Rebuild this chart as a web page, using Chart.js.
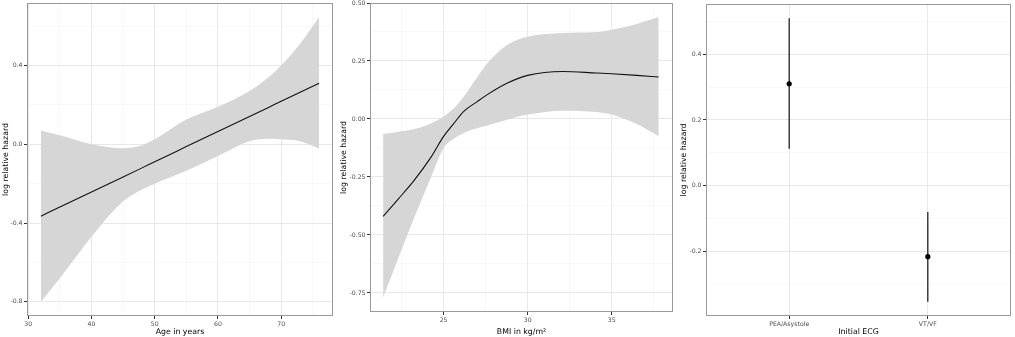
<!DOCTYPE html>
<html>
<head>
<meta charset="utf-8">
<script src="https://cdn.jsdelivr.net/npm/chart.js@4"></script>
<style>
html,body{margin:0;padding:0;background:#fff;width:1015px;height:337px;overflow:hidden;}
canvas{position:absolute;top:0;}
</style>
</head>
<body>
<canvas id="c1" width="336" height="337" style="left:0px"></canvas>
<canvas id="c2" width="340" height="337" style="left:336px"></canvas>
<canvas id="c3" width="339" height="337" style="left:676px"></canvas>
<script>
// ---------- Panel 1: Age ----------
const ageX   = [32, 35, 40, 45, 48, 50, 55, 60, 65, 68, 70, 73, 76];
const ageFit = [-0.365, -0.319, -0.242, -0.166, -0.120, -0.089, -0.012, 0.065, 0.141, 0.187, 0.218, 0.264, 0.310];
const ageHi  = [0.070, 0.045, 0.000, -0.020, -0.005, 0.025, 0.125, 0.190, 0.270, 0.340, 0.400, 0.510, 0.645];
const ageLo  = [-0.800, -0.680, -0.470, -0.290, -0.230, -0.200, -0.135, -0.060, 0.015, 0.028, 0.025, 0.015, -0.022];
const ageXTicks = [30, 40, 50, 60, 70];
const ageXLabels = ['30', '40', '50', '60', '70'];
const ageXMinor = [35, 45, 55, 65, 75];
const ageYTicks = [-0.8, -0.4, 0.0, 0.4];
const ageYLabels = ['-0.8', '-0.4', '0.0', '0.4'];
const ageYMinor = [-0.6, -0.2, 0.2, 0.6];

// ---------- Panel 2: BMI ----------
const bmiX   = [21.4, 22.3, 23.2, 24.2, 25.0, 25.6, 26.2, 27.0, 27.6, 28.8, 30.0, 32.1, 34.1, 35.0, 36.5, 37.8];
const bmiFit = [-0.420, -0.345, -0.269, -0.170, -0.075, -0.020, 0.033, 0.075, 0.105, 0.155, 0.188, 0.205, 0.198, 0.195, 0.188, 0.181];
const bmiHi  = [-0.065, -0.055, -0.044, -0.020, 0.011, 0.045, 0.097, 0.180, 0.240, 0.320, 0.355, 0.371, 0.375, 0.385, 0.410, 0.440];
const bmiLo  = [-0.770, -0.600, -0.434, -0.260, -0.125, -0.085, -0.060, -0.040, -0.028, -0.003, 0.019, 0.036, 0.030, 0.019, -0.022, -0.075];
const bmiXTicks = [25, 30, 35];
const bmiXLabels = ['25', '30', '35'];
const bmiXMinor = [22.5, 27.5, 32.5, 37.5];
const bmiYTicks = [-0.75, -0.5, -0.25, 0, 0.25, 0.5];
const bmiYLabels = ['-0.75', '-0.50', '-0.25', '0.00', '0.25', '0.50'];
const bmiYMinor = [-0.625, -0.375, -0.125, 0.125, 0.375];

// ---------- Panel 3: Initial ECG ----------
const ecgCats = ['PEA/Asystole', 'VT/VF'];
const ecgEst  = [0.310, -0.215];
const ecgLo   = [0.113, -0.352];
const ecgHi   = [0.509, -0.079];
const ecgYTicks = [-0.2, 0.0, 0.2, 0.4];
const ecgYLabels = ['-0.2', '0.0', '0.2', '0.4'];
const ecgYMinor = [-0.3, -0.1, 0.1, 0.3, 0.5];

const FONT = 'DejaVu Sans';
const near = (a, b) => Math.abs(a - b) < 1e-9;

function axis(opts) {
  const {majors, labels, minors, min, max, size, title, titlePad, isX} = opts;
  return {
    type: 'linear', min, max,
    afterBuildTicks: (s) => {
      const all = majors.concat(minors).slice().sort((a, b) => a - b);
      s.ticks = all.map(v => ({value: v}));
    },
    afterFit: (s) => {
      if (isX) s.height = size; else s.width = size;
      s.paddingTop = 0; s.paddingBottom = 0; s.paddingLeft = 0; s.paddingRight = 0;
    },
    ticks: {
      autoSkip: false, maxRotation: 0, minRotation: 0, padding: 1.5,
      color: '#4d4d4d', font: {family: FONT, size: 6.2},
      callback: (v) => { const i = majors.findIndex(m => near(m, v)); return i >= 0 ? labels[i] : ''; }
    },
    grid: {
      drawTicks: true, tickLength: 3,
      color: (c) => majors.some(m => near(m, c.tick.value)) ? '#e8e8e8' : '#f3f3f3',
      lineWidth: (c) => majors.some(m => near(m, c.tick.value)) ? 1 : 0.6,
      tickColor: (c) => majors.some(m => near(m, c.tick.value)) ? '#333333' : 'rgba(0,0,0,0)',
      tickWidth: 1
    },
    border: {display: false},
    title: {display: true, text: title, color: '#000', font: {family: FONT, size: 7.8}, padding: titlePad}
  };
}

const framePlugin = {
  id: 'frame',
  afterDatasetsDraw(chart) {
    const a = chart.chartArea, ctx = chart.ctx;
    ctx.save();
    ctx.strokeStyle = '#9a9a9a';
    ctx.lineWidth = 1;
    ctx.strokeRect(Math.round(a.left) + 0.5, Math.round(a.top) + 0.5, Math.round(a.right - a.left) - 1, Math.round(a.bottom - a.top) - 1);
    ctx.restore();
  }
};

function pts(xs, ys) { return xs.map((x, i) => ({x, y: ys[i]})); }

function bandChart(id, xs, fit, lo, hi, xopt, yopt, pad) {
  return new Chart(document.getElementById(id), {
    type: 'line',
    data: {
      datasets: [
        {order: 0, data: pts(xs, fit), fill: false, borderColor: '#111', borderWidth: 1.1, pointRadius: 0, cubicInterpolationMode: 'monotone'},
        {order: 1, data: pts(xs, hi), fill: '+1', backgroundColor: '#d6d6d6', borderWidth: 0, pointRadius: 0, cubicInterpolationMode: 'monotone'},
        {order: 2, data: pts(xs, lo), fill: false, borderWidth: 0, pointRadius: 0, cubicInterpolationMode: 'monotone'}
      ]
    },
    options: {
      responsive: false, animation: false, devicePixelRatio: 1,
      layout: {padding: pad},
      plugins: {legend: {display: false}, tooltip: {enabled: false}},
      scales: {x: axis(xopt), y: axis(yopt)}
    },
    plugins: [framePlugin]
  });
}

bandChart('c1', ageX, ageFit, ageLo, ageHi,
  {majors: ageXTicks, labels: ageXLabels, minors: ageXMinor, min: 29.8, max: 78.2, size: 21, title: 'Age in years', isX: true, titlePad: {top: 1, bottom: 0}},
  {majors: ageYTicks, labels: ageYLabels, minors: ageYMinor, min: -0.872, max: 0.717, size: 27, title: 'log relative hazard', titlePad: {top: 1, bottom: 0}},
  {top: 3, right: 3, left: 0, bottom: 0});

bandChart('c2', bmiX, bmiFit, bmiLo, bmiHi,
  {majors: bmiXTicks, labels: bmiXLabels, minors: bmiXMinor, min: 20.62, max: 38.65, size: 25, title: 'BMI in kg/m²', isX: true, titlePad: {top: 2, bottom: 0}},
  {majors: bmiYTicks, labels: bmiYLabels, minors: bmiYMinor, min: -0.832, max: 0.5, size: 34, title: 'log relative hazard', titlePad: {top: 3, bottom: 0}},
  {top: 3, right: 3, left: 0, bottom: 0});

// Panel 3
const ecgPos = ecgCats.map((c, i) => i + 1);
const barSets = ecgCats.map((c, i) => ({
  order: 1,
  data: [{x: ecgPos[i], y: ecgLo[i]}, {x: ecgPos[i], y: ecgHi[i]}],
  borderColor: '#111', borderWidth: 1.2, pointRadius: 0, fill: false
}));
new Chart(document.getElementById('c3'), {
  type: 'line',
  data: {
    datasets: [{
      order: 0,
      data: ecgPos.map((p, i) => ({x: p, y: ecgEst[i]})),
      showLine: false, pointRadius: 2.6, pointBackgroundColor: '#000', pointBorderWidth: 0
    }].concat(barSets)
  },
  options: {
    responsive: false, animation: false, devicePixelRatio: 1,
    layout: {padding: {top: 3, right: 2, left: 0, bottom: 0}},
    plugins: {legend: {display: false}, tooltip: {enabled: false}},
    scales: {
      x: axis({majors: ecgPos, labels: ecgCats, minors: [], min: 0.4, max: 2.6, size: 21, title: 'Initial ECG', isX: true, titlePad: {top: 1, bottom: 0}}),
      y: axis({majors: ecgYTicks, labels: ecgYLabels, minors: ecgYMinor, min: -0.395, max: 0.552, size: 30, title: 'log relative hazard', titlePad: {top: 3, bottom: 0}})
    }
  },
  plugins: [framePlugin]
});
</script>
</body>
</html>
